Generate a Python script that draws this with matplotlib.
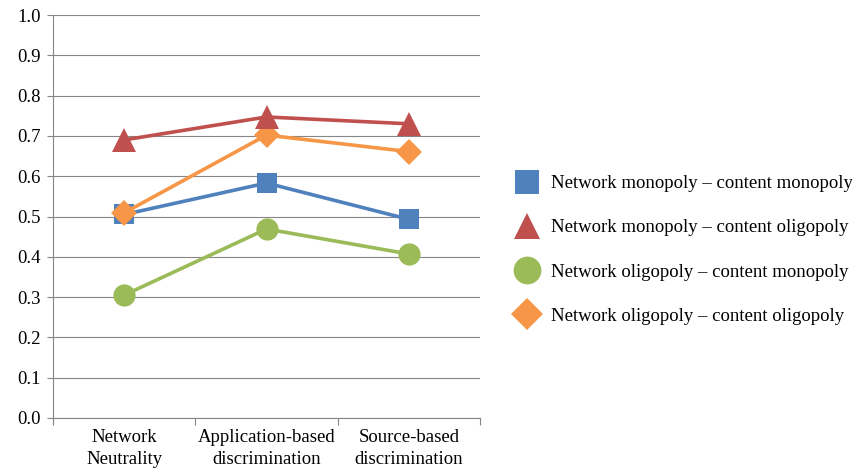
import matplotlib
matplotlib.use("Agg")
import matplotlib.pyplot as plt
from matplotlib.lines import Line2D

plt.rcParams['font.family'] = ['Liberation Serif', 'DejaVu Serif']

categories = ["Network\nNeutrality", "Application-based\ndiscrimination", "Source-based\ndiscrimination"]
series_names = ["Network monopoly \u2013 content monopoly",
                "Network monopoly \u2013 content oligopoly",
                "Network oligopoly \u2013 content monopoly",
                "Network oligopoly \u2013 content oligopoly"]
mono_mono = [0.505, 0.583, 0.493]
mono_oli = [0.690, 0.747, 0.730]
oli_mono = [0.305, 0.469, 0.407]
oli_oli = [0.509, 0.702, 0.661]
y_ticks = [0.0, 0.1, 0.2, 0.3, 0.4, 0.5, 0.6, 0.7, 0.8, 0.9, 1.0]

colors = ["#4F81BD", "#C0504D", "#9BBB59", "#F79646"]
markers = ["s", "^", "o", "D"]
msizes = [14, 17, 16, 13]
leg_sizes = [17, 19, 20, 16]
data = [mono_mono, mono_oli, oli_mono, oli_oli]
order = [2, 0, 3, 1]  # drawing order

FS = 13.5

fig = plt.figure(figsize=(8.53, 4.72), dpi=100)
ax = fig.add_axes([53/853, 1-418/472, (480-53)/853, (418-15)/472])

x = list(range(len(categories)))
for i in order:
    ax.plot(x, data[i], color=colors[i], marker=markers[i], markersize=msizes[i],
            linewidth=2.6, markeredgewidth=0, zorder=3)

ax.set_xlim(-0.5, 2.5)
ax.set_ylim(0, 1.0)
ax.set_yticks(y_ticks)
ax.set_yticklabels([f"{v:.1f}" for v in y_ticks], fontsize=FS)
ax.set_xticks(x)
ax.set_xticklabels(categories, fontsize=FS, linespacing=1.4)
ax.tick_params(axis='x', length=0, pad=8)
ax.set_xticks([-0.5, 0.5, 1.5, 2.5], minor=True)
ax.tick_params(axis='x', which='minor', length=5, color='#868686', width=0.8)
ax.tick_params(axis='y', length=4, color='#868686', width=0.8, pad=5)
ax.grid(axis='y', color='#868686', linewidth=0.8, zorder=0)
ax.set_axisbelow(True)
for s in ['top', 'right']:
    ax.spines[s].set_visible(False)
for s in ['left', 'bottom']:
    ax.spines[s].set_color('#868686')
    ax.spines[s].set_linewidth(0.8)

handles = [Line2D([], [], color=colors[i], marker=markers[i], markersize=leg_sizes[i],
                  linestyle='none', markeredgewidth=0) for i in range(4)]
fig.legend(handles, series_names, loc='center left', bbox_to_anchor=(514/853, 1-250/472),
           frameon=False, fontsize=FS, labelspacing=1.45, handletextpad=0.55,
           handlelength=1.4, borderaxespad=0, borderpad=0)

fig.savefig("out.png", dpi=100)
